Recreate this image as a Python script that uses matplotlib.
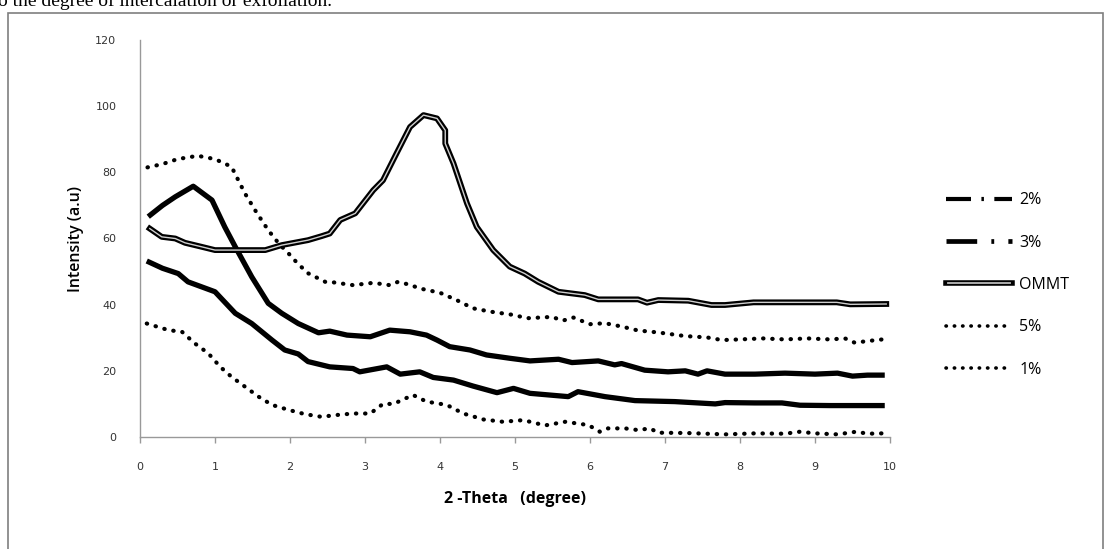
import matplotlib
matplotlib.use("Agg")
import matplotlib.pyplot as plt
from matplotlib.lines import Line2D
from matplotlib.patches import Rectangle
from matplotlib.legend_handler import HandlerBase

# ---------------- data ----------------
x_5 = [0.1, 0.3, 0.5, 0.77, 1.0, 1.22, 1.4, 1.55, 1.71, 1.85, 1.98, 2.1, 2.24, 2.47, 2.53,
       2.84, 3.11, 3.33, 3.44, 3.6, 3.73, 4.0, 4.22, 4.44, 4.67, 4.98, 5.16, 5.49, 5.64,
       5.78, 6.0, 6.2, 6.42, 6.64, 6.91, 7.27, 7.56, 7.76, 8.0, 8.3, 8.6, 8.9, 9.2, 9.4,
       9.53, 9.7, 9.9]
y_5 = [81.5, 82.5, 84.0, 85.0, 84.0, 81.7, 73.6, 68.0, 62.5, 58.5, 55.5, 52.5, 49.5, 46.9, 46.9,
       45.9, 46.6, 45.9, 46.9, 46.0, 44.9, 43.6, 41.4, 38.9, 37.9, 36.9, 35.9, 36.3, 35.2,
       36.1, 34.1, 34.4, 33.4, 32.2, 31.6, 30.5, 30.1, 29.3, 29.5, 29.8, 29.5, 29.8, 29.5, 29.8,
       28.5, 29.0, 29.5]

x_3 = [0.11, 0.3, 0.47, 0.71, 0.96, 1.13, 1.27, 1.49, 1.71, 1.89, 2.11, 2.38, 2.53, 2.76,
       3.07, 3.33, 3.6, 3.82, 3.96, 4.13, 4.4, 4.62, 4.93, 5.2, 5.58, 5.76, 6.11, 6.33,
       6.42, 6.73, 7.04, 7.27, 7.44, 7.56, 7.8, 8.2, 8.6, 9.0, 9.3, 9.5, 9.7, 9.93]
y_3 = [66.6, 70.0, 72.6, 75.8, 71.6, 63.5, 57.5, 48.4, 40.4, 37.4, 34.3, 31.5, 32.0, 30.8,
       30.3, 32.3, 31.8, 30.8, 29.3, 27.3, 26.3, 24.8, 23.8, 23.0, 23.5, 22.5, 23.0, 21.8,
       22.2, 20.2, 19.7, 20.0, 19.0, 20.0, 19.0, 19.0, 19.3, 19.0, 19.3, 18.4, 18.7, 18.7]

x_2 = [0.09, 0.3, 0.51, 0.64, 1.0, 1.27, 1.49, 1.76, 1.93, 2.11, 2.24, 2.53, 2.84, 2.93,
       3.29, 3.47, 3.73, 3.91, 4.18, 4.44, 4.76, 4.98, 5.2, 5.71, 5.84, 6.2, 6.6, 7.13,
       7.67, 7.8, 8.2, 8.56, 8.8, 9.2, 9.6, 9.93]
y_2 = [53.2, 51.0, 49.4, 46.9, 43.9, 37.4, 34.3, 29.3, 26.3, 25.1, 22.8, 21.2, 20.7, 19.7,
       21.2, 19.0, 19.7, 18.0, 17.2, 15.4, 13.4, 14.7, 13.2, 12.2, 13.7, 12.2, 11.0, 10.7,
       10.0, 10.4, 10.3, 10.3, 9.6, 9.5, 9.5, 9.5]

x_ommt = [0.13, 0.29, 0.47, 0.6, 0.82, 1.0, 1.27, 1.67, 1.89, 2.24, 2.42, 2.53, 2.67, 2.87,
          3.11, 3.24, 3.42, 3.6, 3.78, 3.96, 4.07, 4.07, 4.18, 4.36, 4.49, 4.71, 4.93, 5.13,
          5.31, 5.58, 5.93, 6.11, 6.64, 6.76, 6.91, 7.31, 7.62, 7.8, 8.18, 9.29, 9.47, 9.95]
y_ommt = [63.0, 60.5, 60.0, 58.7, 57.5, 56.5, 56.5, 56.5, 58.0, 59.5, 60.7, 61.5, 65.6, 67.6,
          74.6, 77.6, 85.7, 93.7, 97.3, 96.3, 92.7, 88.7, 82.7, 70.6, 63.5, 56.5, 51.5, 49.4,
          46.9, 43.9, 42.9, 41.6, 41.6, 40.6, 41.4, 41.2, 39.9, 39.9, 40.7, 40.7, 40.1, 40.2]

x_1 = [0.09, 0.38, 0.56, 0.73, 0.91, 1.07, 1.22, 1.4, 1.58, 1.76, 1.98, 2.2, 2.42, 2.6,
       2.84, 3.07, 3.24, 3.38, 3.64, 3.82, 4.09, 4.31, 4.58, 4.84, 5.11, 5.4, 5.67, 5.98,
       6.13, 6.24, 6.47, 6.64, 6.8, 6.91, 7.3, 7.8, 8.2, 8.6, 8.8, 9.0, 9.3, 9.55, 9.7, 9.9]
y_1 = [34.3, 32.3, 31.8, 28.3, 25.3, 21.2, 18.2, 15.2, 12.2, 9.7, 8.2, 6.9, 6.1, 6.6,
       7.1, 7.1, 10.0, 10.0, 12.7, 10.7, 9.7, 7.1, 5.3, 4.6, 5.1, 3.5, 4.6, 3.6,
       1.6, 2.6, 2.6, 2.1, 2.6, 1.3, 1.2, 0.8, 1.1, 1.0, 1.6, 1.1, 0.8, 1.6, 1.0, 1.1]

legend_labels = ["2%", "3%", "OMMT", "5%", "1%"]
x_ticks = list(range(0, 11))
y_ticks = [0, 20, 40, 60, 80, 100, 120]

# ---------------- figure ----------------
fig = plt.figure(figsize=(11.06, 5.49), dpi=100)
fig.patch.set_facecolor("white")

# page border box and cut-off document text above
fig.patches.append(Rectangle((8 / 1106, -0.05), (1103 - 8) / 1106, (549 - 13) / 549 + 0.05,
                             transform=fig.transFigure, fill=False,
                             edgecolor="#7f7f7f", linewidth=1.2))
fig.text(-0.002, 1 - 6 / 549, "o the degree of intercalation or exfoliation.",
         family="Liberation Serif", fontsize=14, va="baseline", ha="left", color="black")

ax = fig.add_axes([140 / 1106, 112 / 549, 750 / 1106, 397 / 549])

dotted = (0, (0.1, 2.1))
ax.plot(x_5, y_5, color="black", lw=3.0, linestyle=dotted, dash_capstyle="round")
ax.plot(x_1, y_1, color="black", lw=3.0, linestyle=dotted, dash_capstyle="round")
ax.plot(x_3, y_3, color="black", lw=3.8, solid_joinstyle="round", solid_capstyle="butt")
ax.plot(x_2, y_2, color="black", lw=3.8, solid_joinstyle="round", solid_capstyle="butt")
ax.plot(x_ommt, y_ommt, color="black", lw=4.2, solid_joinstyle="round")
ax.plot(x_ommt, y_ommt, color="#cfcfcf", lw=1.0, solid_joinstyle="round")

ax.set_xlim(0, 10)
ax.set_ylim(0, 120)
ax.set_xticks(x_ticks)
ax.set_yticks(y_ticks)
for s in ["top", "right"]:
    ax.spines[s].set_visible(False)
for s in ["left", "bottom"]:
    ax.spines[s].set_color("#999999")
    ax.spines[s].set_linewidth(1.0)
ax.tick_params(axis="x", direction="out", length=4, width=1, color="#999999",
               pad=14, labelsize=8, labelcolor="#333333")
ax.tick_params(axis="y", length=0, pad=17, labelsize=8, labelcolor="#333333")

ax.set_xlabel("2 -Theta   (degree)", fontsize=11.5, fontweight="bold",
              family="Open Sans", labelpad=14)
ax.set_ylabel("Intensity (a.u)", fontsize=11.5, family="Open Sans", fontweight="semibold",
              labelpad=8)


class DoubleLine(HandlerBase):
    def create_artists(self, legend, orig, xdescent, ydescent, width, height, fontsize, trans):
        y = height / 2 - ydescent
        a = Line2D([-xdescent, width - xdescent], [y, y], color="black", lw=4.0, transform=trans)
        b = Line2D([-xdescent + 1, width - xdescent - 1], [y, y], color="#bbbbbb", lw=1.3,
                   transform=trans)
        return [a, b]


h2 = Line2D([], [], color="black", lw=3, linestyle=(0, (6.0, 2.5, 0.6, 2.5)), dash_capstyle="butt")
h3 = Line2D([], [], color="black", lw=3.4, linestyle=(0, (6.5, 3.0, 0.6, 3.0)), dash_capstyle="butt")
hom = Line2D([], [], color="black")
h5 = Line2D([], [], color="black", lw=2.6, linestyle=(0, (0.1, 2.2)), dash_capstyle="round")
h1 = Line2D([], [], color="black", lw=2.6, linestyle=(0, (0.1, 2.2)), dash_capstyle="round")

leg = fig.legend([h2, h3, hom, h5, h1], legend_labels,
                 handler_map={hom: DoubleLine()},
                 loc="upper left", bbox_to_anchor=(932 / 1106, 1 - 178 / 549),
                 frameon=False, handlelength=4.1, handletextpad=0.45,
                 labelspacing=1.65, prop={"family": "Open Sans", "size": 11.5})

fig.savefig("out.png", dpi=100, facecolor="white")
